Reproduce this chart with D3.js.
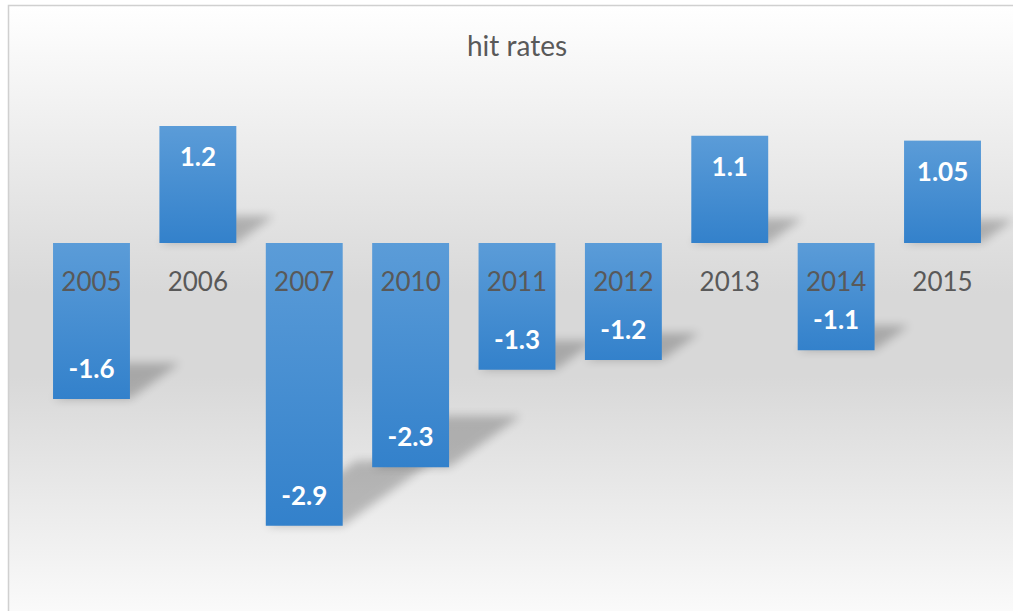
<html>
<head>
    <script src="https://d3js.org/d3.v7.min.js"></script>
    <style>
        body { margin: 0; background: #fff; }
        text { font-family: Lato, "Open Sans", sans-serif; }
    </style>
</head>
<body>
<div id="chart"></div>
<script>
    // values
    const years = ["2005", "2006", "2007", "2010", "2011", "2012", "2013", "2014", "2015"];
    const hitRates = [-1.6, 1.2, -2.9, -2.3, -1.3, -1.2, 1.1, -1.1, 1.05];
    const chartTitle = "hit rates";

    const data = years.map((y, i) => ({ year: y, value: hitRates[i] }));

    const svg = d3.select("#chart")
        .append("svg")
        .attr("width", 1013)
        .attr("height", 611);

    const defs = svg.append("defs");

    // background: light at top and bottom, grey band in the middle
    const bg = defs.append("linearGradient").attr("id", "bg")
        .attr("x1", 0).attr("y1", 0).attr("x2", 0).attr("y2", 1);
    bg.append("stop").attr("offset", "0%").attr("stop-color", "#ffffff");
    bg.append("stop").attr("offset", "45%").attr("stop-color", "#d8d8d8");
    bg.append("stop").attr("offset", "58%").attr("stop-color", "#d8d8d8");
    bg.append("stop").attr("offset", "100%").attr("stop-color", "#ffffff");

    const barGrad = defs.append("linearGradient").attr("id", "barGrad")
        .attr("x1", 0).attr("y1", 0).attr("x2", 0).attr("y2", 1);
    barGrad.append("stop").attr("offset", "0%").attr("stop-color", "#5b9cd8");
    barGrad.append("stop").attr("offset", "100%").attr("stop-color", "#3381cb");

    defs.append("filter").attr("id", "blur")
        .attr("x", "-50%").attr("y", "-50%").attr("width", "200%").attr("height", "200%")
        .append("feGaussianBlur").attr("stdDeviation", 5);

    // chart frame, runs off the right and bottom edge
    svg.append("rect")
        .attr("x", 8.5).attr("y", 5.5)
        .attr("width", 1030).attr("height", 640)
        .attr("fill", "url(#bg)")
        .attr("stroke", "#d0d0d0")
        .attr("stroke-width", 1.5);

    svg.append("text")
        .attr("x", 517).attr("y", 56)
        .attr("text-anchor", "middle")
        .attr("font-size", 28)
        .attr("fill", "#595959")
        .text(chartTitle);

    const x = d3.scaleBand()
        .domain(years)
        .range([38.3, 995.7])
        .paddingInner(0.277)
        .paddingOuter(0.1385);

    const y = d3.scaleLinear()
        .domain([-3.5, 1.5])
        .range([584.25, 96.75]);

    const plot = svg.append("g");

    // perspective shadows behind the bars
    plot.selectAll("path.shadow").data(data)
        .join("path")
        .attr("class", "shadow")
        .attr("d", d => {
            const x0 = x(d.year), x1 = x0 + x.bandwidth();
            const top = Math.min(y(d.value), y(0));
            const bot = Math.max(y(d.value), y(0));
            const h = bot - top;
            const k = 0.23 * h, s = 0.32 * h;
            return `M${x0},${bot}L${x1},${bot}L${x1 + s},${bot - k}L${x0 + s},${bot - k}Z`;
        })
        .attr("fill", "#000")
        .attr("opacity", 0.22)
        .attr("filter", "url(#blur)");

    plot.selectAll("rect.bar").data(data)
        .join("rect")
        .attr("class", "bar")
        .attr("x", d => x(d.year))
        .attr("width", x.bandwidth())
        .attr("y", d => Math.min(y(d.value), y(0)))
        .attr("height", d => Math.abs(y(d.value) - y(0)))
        .attr("fill", "url(#barGrad)");

    // category labels sit just below the zero line
    plot.selectAll("text.cat").data(data)
        .join("text")
        .attr("class", "cat")
        .attr("x", d => x(d.year) + x.bandwidth() / 2)
        .attr("y", y(0) + 48)
        .attr("text-anchor", "middle")
        .attr("font-size", 26)
        .attr("fill", "#595959")
        .text(d => d.year);

    // value labels, inside end
    plot.selectAll("text.val").data(data)
        .join("text")
        .attr("class", "val")
        .attr("x", d => x(d.year) + x.bandwidth() / 2)
        .attr("y", d => d.value >= 0 ? y(d.value) + 40 : y(d.value) - 21)
        .attr("text-anchor", "middle")
        .attr("font-size", 26)
        .attr("font-weight", "bold")
        .attr("fill", "#fff")
        .text(d => d.value);
</script>
</body>
</html>
